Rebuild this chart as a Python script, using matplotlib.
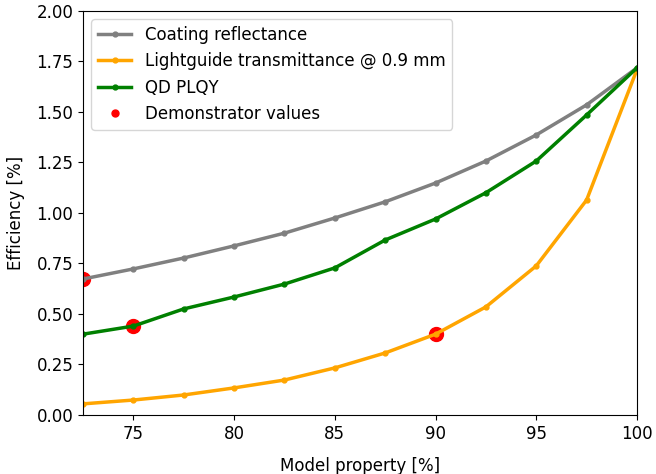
import matplotlib
matplotlib.use("Agg")
import matplotlib.pyplot as plt
import numpy as np

# Model property [%]
prop = [72.5, 75, 77.5, 80, 82.5, 85, 87.5, 90, 92.5, 95, 97.5, 100]

# Efficiency for each varied parameter
coating = [0.673, 0.723, 0.777, 0.837, 0.900, 0.975, 1.055, 1.148, 1.257, 1.386, 1.535, 1.718]
lightguide = [0.055, 0.074, 0.099, 0.134, 0.173, 0.233, 0.307, 0.400, 0.535, 0.738, 1.064, 1.710]
plqy = [0.400, 0.440, 0.525, 0.584, 0.648, 0.728, 0.866, 0.970, 1.100, 1.257, 1.485, 1.718]

# Demonstrator values
demo_x = [72.5, 75, 90]
demo_y = [0.673, 0.440, 0.400]

fig = plt.figure(figsize=(6.56, 4.74), dpi=100)
ax = fig.add_axes([0.1265, 0.1245, 0.8445, 0.8525])

ax.plot(demo_x, demo_y, 'o', color='red', markersize=10, zorder=1)
ax.plot(prop, coating, '.-', color='grey', linewidth=2.5, markersize=7, label='Coating reflectance', zorder=2)
ax.plot(prop, lightguide, '.-', color='orange', linewidth=2.5, markersize=7, label='Lightguide transmittance @ 0.9 mm', zorder=2)
ax.plot(prop, plqy, '.-', color='green', linewidth=2.5, markersize=7, label='QD PLQY', zorder=2)
ax.plot([], [], 'o', color='red', markersize=5, label='Demonstrator values')

ax.set_xlim(72.5, 100)
ax.set_ylim(0, 2)
ax.set_xticks([75, 80, 85, 90, 95, 100])
ax.set_yticks(np.arange(0, 2.01, 0.25))
ax.set_yticklabels(['%.2f' % v for v in np.arange(0, 2.01, 0.25)])
ax.tick_params(labelsize=12)
ax.set_xlabel('Model property [%]', fontsize=12, labelpad=10)
ax.set_ylabel('Efficiency [%]', fontsize=12, labelpad=8)
ax.legend(loc='upper left', fontsize=12)

fig.savefig('out.png', dpi=100)
